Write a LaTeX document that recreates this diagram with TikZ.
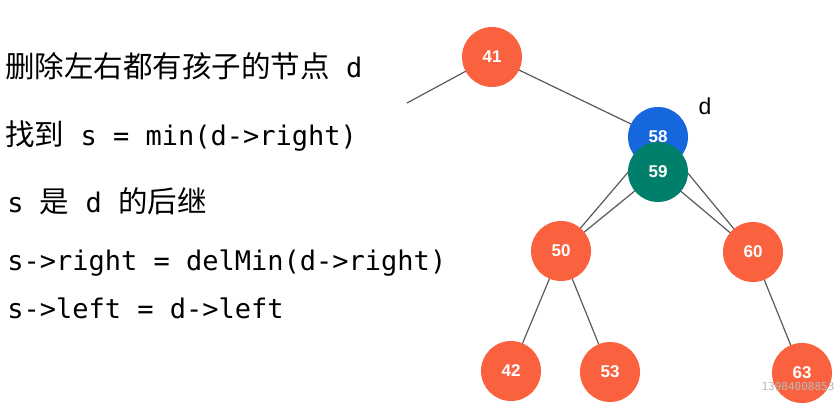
\documentclass[tikz,border=0pt]{standalone}
\usepackage{fontspec}
\setmonofont{DejaVu Sans Mono}
\setsansfont{Liberation Sans}
\newfontfamily\cjk{Noto Sans CJK SC}
\usepackage{tikz}
\usetikzlibrary{positioning}
\usetikzlibrary{backgrounds}
\definecolor{treered}{RGB}{250,97,62}
\definecolor{treeblue}{RGB}{22,102,222}
\definecolor{treeteal}{RGB}{0,128,106}
\tikzset{
    treenode/.style={circle, minimum size=30pt, inner sep=0pt, fill=treered,
        text=white, font=\sffamily\bfseries\fontsize{8.5}{8.5}\selectfont},
    delnode/.style={treenode, fill=treeblue},
    succnode/.style={treenode, fill=treeteal},
    treeedge/.style={draw=black!65, line width=0.6pt},
    codeline/.style={anchor=base west, inner sep=0pt,
        font=\ttfamily\fontsize{13.5}{16}\selectfont},
}
\newcommand{\zh}[1]{{\cjk\fontsize{14.75}{16}\selectfont #1}}

\begin{document}
\begin{tikzpicture}[x=0.5pt,y=-0.5pt]
\useasboundingbox (0,0) rectangle (836,414);

%LEFT SIDE
\node [codeline] (line1) at (5,77) {\zh{删除左右都有孩子的节点} d};
\node [codeline] (line2) at (5,145) {\zh{找到} s = min(d->right)};
\node [codeline] (line3) at (7,212) {s \zh{是} d \zh{的后继}};
\node [codeline] (line4) at (7,270) {s->right = delMin(d->right)};
\node [codeline] (line5) at (7,318) {s->left = d->left};

%TREE
\node [treenode] (n41) at (492,57) {41};
\node [delnode] (n58) at (658,137) {58};
\node [treenode] (n50) at (561,251) {50};
\node [treenode] (n60) at (753,252) {60};
\node [treenode] (n42) at (511,371) {42};
\node [treenode] (n53) at (610,372) {53};
\node [treenode] (n63) at (802,373) {63};
\node [succnode] (n59) at (658,172) {59};
\coordinate (up) at (407,103);
	\node [font=\sffamily\fontsize{11.5}{12}\selectfont] (dlabel) at (705,106) {d};

%EDGES
\begin{scope}[on background layer]
\draw [treeedge] (n41.center) -- (up);
\draw [treeedge] (n41.center) -- (n58.center);
\draw [treeedge] (n58.center) -- (n50.center);
\draw [treeedge] (n58.center) -- (n60.center);
\draw [treeedge] (n59.center) -- (n50.center);
\draw [treeedge] (n59.center) -- (n60.center);
\draw [treeedge] (n50.center) -- (n42.center);
\draw [treeedge] (n50.center) -- (n53.center);
\draw [treeedge] (n60.center) -- (n63.center);
\end{scope}

%WATERMARK
\node [text=gray!55, font=\ttfamily\fontsize{5.5}{6}\selectfont] (mark) at (798,386) {13984008853};
\end{tikzpicture}
\end{document}
